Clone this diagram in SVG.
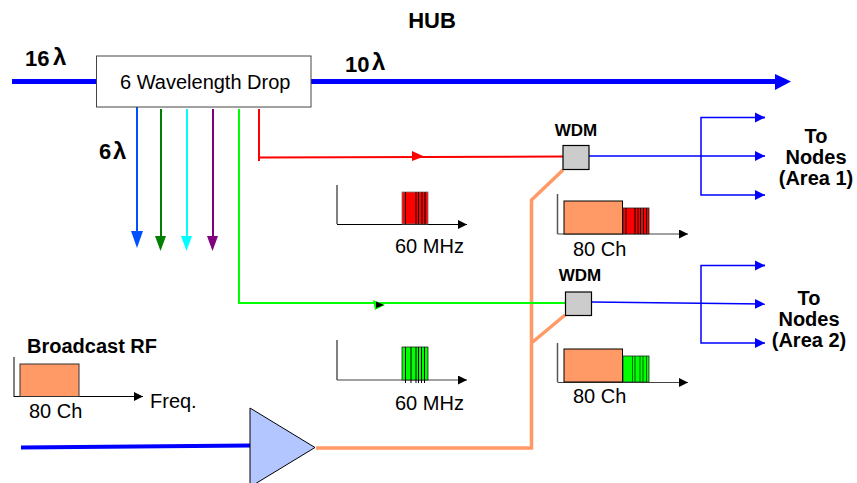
<svg xmlns="http://www.w3.org/2000/svg" width="857" height="483" viewBox="0 0 857 483">
<style>
text{font-family:"Liberation Sans",Arial,sans-serif;fill:#000;font-size:20px}
.b{font-weight:bold}
.m{text-anchor:middle}
.w{font-size:17px}
.lg{font-size:22px}
.la{font-size:24px}
.ax{fill:none;stroke:#555;stroke-width:1.5}
.bx{stroke:#000;stroke-width:1}
.tk{stroke:#000;stroke-width:1;fill:none}
.f{fill:none}
</style>
<defs>
<marker id="ah" markerUnits="userSpaceOnUse" markerWidth="10" markerHeight="10" refX="9" refY="4.500" orient="auto"><path d="M0 0L9 4.500L0 9Z" fill="#000"/></marker>
<marker id="ab" markerUnits="userSpaceOnUse" markerWidth="11" markerHeight="11" refX="10" refY="5.500" orient="auto"><path d="M0 0.500L10 5.500L0 10.500Z" fill="#0000ff"/></marker>
</defs>
<g id="connectors">
<path d="M12 81.500H97M311 81.500H780" stroke="#0000ff" stroke-width="5" class="f"/>
<path d="M775 74L791 81.500L775 90Z" fill="#0000ff"/>
<path d="M137 107V235" stroke="#0050ff" stroke-width="2" class="f"/><path d="M131 231H143L137 248Z" fill="#0050ff"/>
<path d="M161 109V238" stroke="#008000" stroke-width="2" class="f"/><path d="M155 236H166L160.500 251Z" fill="#008000"/>
<path d="M187 109V238" stroke="#00ffff" stroke-width="2" class="f"/><path d="M181 236H192L186.500 251Z" fill="#00ffff"/>
<path d="M213 109V238" stroke="#800080" stroke-width="2" class="f"/><path d="M207 236H218L212.500 251Z" fill="#800080"/>
<path d="M316 448H531.500V200L563 170M531.500 343L565 315" stroke="#ff9966" stroke-width="3.500" class="f"/>
<path d="M239 109V303H565" stroke="#00ff00" stroke-width="2" class="f"/>
<path d="M373 300L385 305L375 310Z" fill="#00ff00"/><path d="M376 301.500L384 305L376 308Z" fill="#000"/>
<path d="M259 109V161M259 157.500L563 156.500" stroke="#ff0000" stroke-width="2" class="f"/>
<path d="M412 151L424 156.500L412 161Z" fill="#ff0000"/>
<path d="M21 447.500L250 445.500" stroke="#0000ff" stroke-width="4" class="f"/>
<path d="M589 156H765" stroke="#0000ff" stroke-width="1.500" marker-end="url(#ab)" class="f"/>
<path d="M765 117.500H701V195H765" stroke="#0000ff" stroke-width="1.500" marker-end="url(#ab)" class="f"/>
<path d="M755 117.500L765 117.500" stroke="#0000ff" stroke-width="1.500" marker-end="url(#ab)" class="f"/>
<path d="M591.500 302L765 304" stroke="#0000ff" stroke-width="1.500" marker-end="url(#ab)" class="f"/>
<path d="M765 265.500H701V343H765" stroke="#0000ff" stroke-width="1.500" marker-end="url(#ab)" class="f"/>
<path d="M755 265.500L765 265.500" stroke="#0000ff" stroke-width="1.500" marker-end="url(#ab)" class="f"/>
</g>
<g id="drop"><rect x="96.500" y="56" width="214.500" height="51" fill="#fff" stroke="#444" stroke-width="1"/><text x="120" y="89">6 Wavelength Drop</text></g>
<g id="hub"><text class="b m" x="432" y="28" style="font-size:22px">HUB</text></g>
<g id="l16"><text class="b lg" x="25" y="66">16</text><text class="b la" x="53" y="65">λ</text></g>
<g id="l10"><text class="b lg" x="345" y="72">10</text><text class="b la" x="372" y="70">λ</text></g>
<g id="l6"><text class="b lg" x="99" y="159">6</text><text class="b la" x="113" y="159">λ</text></g>
<g id="wdm1"><rect x="563" y="145.500" width="26" height="24" fill="#cccccc" stroke="#000" stroke-width="1.200"/><text class="b m w" x="576" y="136">WDM</text></g>
<g id="wdm2"><rect x="565.500" y="292" width="26" height="23.500" fill="#cccccc" stroke="#000" stroke-width="1.200"/><text class="b m w" x="580" y="281">WDM</text></g>
<g id="chart-red">
<path class="ax" d="M337 185V224"/><path d="M337 224.500H467" stroke="#000" stroke-width="1.200" marker-end="url(#ah)" class="f"/>
<rect x="402" y="192" width="26" height="32" fill="#ff0000" stroke="#777" stroke-width="0.800"/>
<path class="tk" d="M405.500 192V224M416 192V224M418.500 192V224M422 192V224M425 192V224"/>
<text x="395" y="253">60 MHz</text></g>
<g id="chart-green">
<path class="ax" d="M337 340V380"/><path d="M337 380H467" stroke="#444" stroke-width="1.200" marker-end="url(#ah)" class="f"/>
<rect x="402" y="347" width="26" height="33" fill="#00ff00" stroke="#222" stroke-width="0.800"/>
<path class="tk" d="M405.500 347V383M411 347V383M416 347V383M418.500 347V383M421.500 347V383M424.500 347V383"/>
<text x="395" y="410">60 MHz</text></g>
<g id="chart-area1">
<path class="ax" d="M557.500 194V234"/><path d="M557.500 234H688" stroke="#444" stroke-width="1.200" marker-end="url(#ah)" class="f"/>
<rect x="564" y="201" width="58.500" height="33" fill="#ff9966" class="bx"/>
<rect x="623" y="208" width="26" height="26" fill="#ff0000" stroke="#222" stroke-width="0.800"/>
<path class="tk" d="M626 208V234M635 208V234M638 208V234M640.500 208V234M643.500 208V234M646.500 208V234"/>
<text x="573" y="256">80 Ch</text></g>
<g id="chart-area2">
<path class="ax" d="M557.500 343V382"/><path d="M557.500 382.500H688" stroke="#444" stroke-width="1.200" marker-end="url(#ah)" class="f"/>
<rect x="564" y="349" width="58.500" height="33" fill="#ff9966" class="bx"/>
<rect x="623" y="356" width="26" height="26" fill="#00ff00" stroke="#222" stroke-width="0.800"/>
<path stroke="#006000" stroke-width="1" fill="none" d="M632.500 356V382M635 356V382M640 356V382M643 356V382M646.500 356V382"/>
<text x="573" y="403">80 Ch</text></g>
<g id="broadcast">
<path class="ax" d="M14 357V397"/><path d="M14 396.500H143" stroke="#000" stroke-width="1" marker-end="url(#ah)" class="f"/>
<rect x="20" y="364" width="59" height="32.500" fill="#ff9966" stroke="#333" stroke-width="1"/>
<text class="b" x="27" y="353">Broadcast RF</text>
<text x="29" y="418">80 Ch</text><text x="150" y="408">Freq.</text></g>
<g id="amp"><path d="M250 408L315 447.500L250 487Z" fill="#b3c6ff" stroke="#000" stroke-width="1"/></g>
<g id="area1"><text class="b m" x="816" y="143">To</text><text class="b m" x="816" y="164">Nodes</text><text class="b m" x="816" y="185">(Area 1)</text></g>
<g id="area2"><text class="b m" x="809" y="305">To</text><text class="b m" x="809" y="326">Nodes</text><text class="b m" x="809" y="347">(Area 2)</text></g>
</svg>
